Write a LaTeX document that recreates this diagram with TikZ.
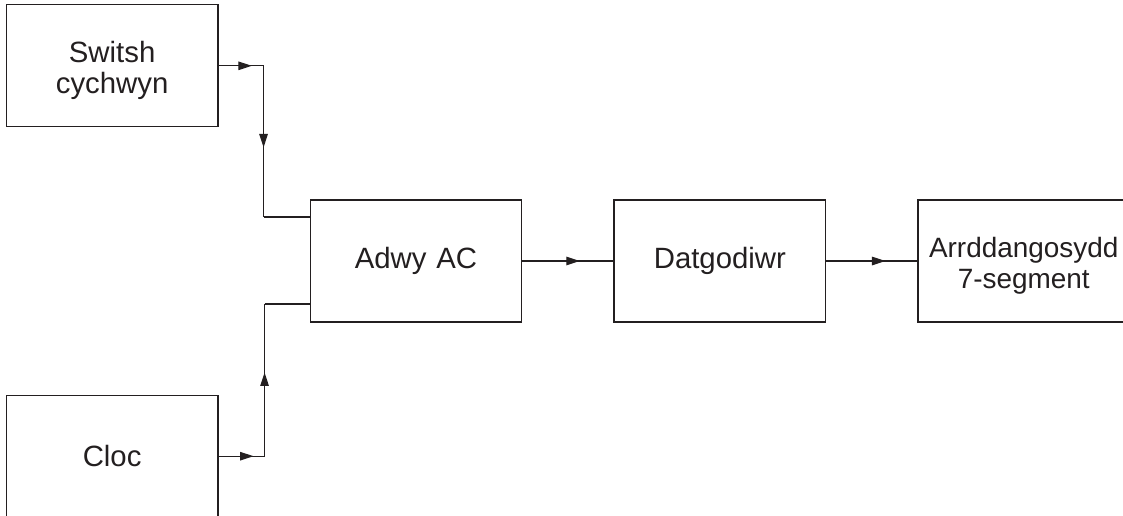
\documentclass[tikz,border=0pt]{standalone}
\usepackage{fontspec}
\setmainfont{Liberation Sans}
\usepackage{tikz}
\usetikzlibrary{arrows.meta,positioning,decorations.markings}
\definecolor{ink}{HTML}{231F20}
\tikzstyle{block} = [rectangle, minimum width=4.22cm, minimum height=2.44cm, text width=4cm, align=center, draw=ink, line width=0.7pt, text=ink, font=\fontsize{16.7}{17.5}\selectfont]
\tikzstyle{twoline} = [text depth=0.54cm]
\tikzstyle{wire} = [draw=ink, line width=0.7pt]
\tikzstyle{flow} = [wire, postaction={decorate}, decoration={markings, mark=at position #1 with {\arrow{Triangle[length=0.27cm, width=0.17cm]}}}]

\begin{document}
\begin{tikzpicture}[x=0.02cm, y=-0.02cm, node distance=1.82cm]
\useasboundingbox (0,0) rectangle (1123,515);
\clip (0,0) rectangle (1123,515);
\node (adwy) [block] at (416,261) {Adwy AC};
\node (sw) [block, twoline, above left=1.44cm and 1.82cm of adwy] {Switsh\\cychwyn};
\node (cloc) [block, below left=1.44cm and 1.82cm of adwy] {Cloc};
\node (dat) [block, right=of adwy] {Datgodiwr};
\node (arr) [block, twoline, right=of dat, font=\fontsize{15.9}{17.5}\selectfont] {Arrddangosydd\\7-segment};

\coordinate [right=0.9cm of sw.east] (j1);
\coordinate [right=0.92cm of cloc.east] (j2);
\coordinate [above=0.88cm of adwy.west] (in1);
\coordinate [below=0.86cm of adwy.west] (in2);

\draw [flow=0.74] (sw.east) -- (j1);
\draw [flow=0.54] (j1) -- (j1 |- in1);
\draw [wire] (j1 |- in1) -- (in1);
\draw [flow=0.76] (cloc.east) -- (j2);
\draw [flow=0.55] (j2) -- (j2 |- in2);
\draw [wire] (j2 |- in2) -- (in2);
\draw [flow=0.63] (adwy) -- (dat);
\draw [flow=0.65] (dat) -- (arr);
\end{tikzpicture}
\end{document}
